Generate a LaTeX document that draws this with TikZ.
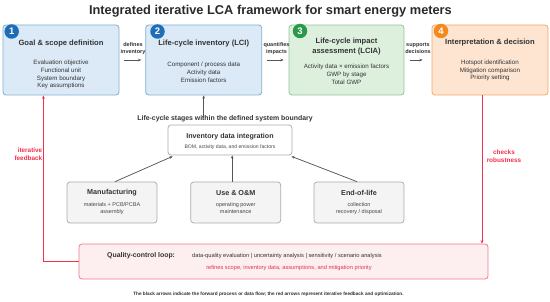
\documentclass[tikz,border=0pt]{standalone}
\usepackage{fontspec}
\setmainfont{Liberation Sans}
\usetikzlibrary{arrows.meta}
\definecolor{bluefill}{HTML}{DCEAF7}
\definecolor{blueline}{HTML}{7FB0D0}
\definecolor{bluedark}{HTML}{1F6DB5}
\definecolor{greenfill}{HTML}{DDF0DD}
\definecolor{greenline}{HTML}{93C795}
\definecolor{greendark}{HTML}{2A9A4A}
\definecolor{orangefill}{HTML}{FDE5D2}
\definecolor{orangeline}{HTML}{F2A766}
\definecolor{orangedark}{HTML}{F28A1E}
\definecolor{redc}{HTML}{F2304F}
\definecolor{redfill}{HTML}{FDEEF0}
\definecolor{redline}{HTML}{F27C8C}
\definecolor{redtext}{HTML}{E0354F}
\definecolor{grayline}{HTML}{AAAAAA}
\definecolor{grayfill}{HTML}{F4F4F4}
\definecolor{txt}{HTML}{333333}
\definecolor{arrowc}{HTML}{555555}
\begin{document}
\begin{tikzpicture}[x=1pt,y=-1pt,
  stagebox/.style={draw, rounded corners=3pt, line width=0.8pt, minimum width=116pt, minimum height=70pt, inner sep=0pt},
  numc/.style={circle, minimum size=14.5pt, inner sep=0pt, text=white, font=\fontsize{9.5}{9.5}\selectfont\bfseries},
  ttl/.style={font=\fontsize{7.6}{10}\selectfont\bfseries, text=txt, align=center, inner sep=0pt},
  bdy/.style={font=\fontsize{6.2}{7.8}\selectfont, text=txt, align=center, inner sep=0pt},
  lbl/.style={font=\fontsize{5.5}{7}\selectfont\bfseries, text=txt, align=center, inner sep=0pt},
  subbox/.style={draw=grayline, fill=grayfill, rounded corners=3pt, line width=0.7pt, minimum width=90pt, minimum height=41pt, inner sep=0pt},
  subttl/.style={font=\fontsize{7.2}{8}\selectfont\bfseries, text=txt, align=center, inner sep=0pt},
  subbdy/.style={font=\fontsize{5.5}{7}\selectfont, text=txt!90, align=center, inner sep=0pt},
  fwd/.style={-{Stealth[length=3.2pt,width=2.6pt]}, line width=0.75pt, draw=arrowc},
  fb/.style={-{Stealth[length=3.4pt,width=2.8pt]}, line width=1pt, color=redc},
  redlbl/.style={font=\fontsize{6.4}{8}\selectfont\bfseries, text=redc, inner sep=0pt}]
\useasboundingbox (0,0) rectangle (550,302);

\node[font=\fontsize{12.8}{14}\selectfont\bfseries, text=txt!80!black] (title) at (270.5,11) {Integrated iterative LCA framework for smart energy meters};

% stage boxes
\node[stagebox, draw=blueline, fill=bluefill] (b1) at (61,60) {};
\node[stagebox, draw=blueline, fill=bluefill] (b2) at (203.7,60) {};
\node[stagebox, draw=greenline, fill=greenfill, minimum width=115pt] (b3) at (346.5,60) {};
\node[stagebox, draw=orangeline, fill=orangefill] (b4) at (490,60) {};

\node[numc, fill=bluedark] (n1) at (11.7,31.5) {1};
\node[numc, fill=bluedark] (n2) at (157.5,31.5) {2};
\node[numc, fill=greendark] (n3) at (300,31) {3};
\node[numc, fill=orangedark] (n4) at (441,31) {4};

\node[ttl] (t1) at (61,44) {Goal \& scope definition};
\node[bdy] (d1) at (61,74.5) {Evaluation objective\\Functional unit\\System boundary\\Key assumptions};
\node[ttl] (t2) at (203.7,44) {Life-cycle inventory (LCI)};
\node[bdy] (d2) at (203.7,72.5) {Component / process data\\Activity data\\Emission factors};
\node[ttl] (t3) at (346.5,47) {Life-cycle impact\\assessment (LCIA)};
\node[bdy] (d3) at (346.5,74) {Activity data × emission factors\\GWP by stage\\Total GWP};
\node[ttl] (t4) at (490,43) {Interpretation \& decision};
\node[bdy] (d4) at (490,70.5) {Hotspot identification\\Mitigation comparison\\Priority setting};

% forward labels and arrows
\node[lbl] (l1) at (133,48.5) {defines\\inventory};
\node[lbl] (l2) at (276.5,48.5) {quantifies\\impacts};
\node[lbl] (l3) at (418,48.5) {supports\\decisions};
\draw[fwd] ([xshift=5pt]b1.east) -- ([xshift=-4pt]b2.west);
\draw[fwd] ([xshift=5pt]b2.east) -- ([xshift=-5pt]b3.west);
\draw[fwd] ([xshift=6pt]b3.east) -- ([xshift=-9pt]b4.west);

% system boundary
\node[font=\fontsize{6.9}{8}\selectfont\bfseries, text=txt, inner sep=0pt] (stages) at (225,119) {Life-cycle stages within the defined system boundary};
\draw[fwd] ([yshift=-2.5pt]stages.north -| b2.south) -- (b2.south);

\node[draw=grayline, fill=white, rounded corners=3pt, line width=0.7pt, minimum width=124pt, minimum height=30pt, inner sep=0pt] (inv) at (230,140) {};
\node[font=\fontsize{7.1}{8}\selectfont\bfseries, text=txt, inner sep=0pt] (invt) at (230,136.5) {Inventory data integration};
\node[font=\fontsize{5.1}{6}\selectfont, text=txt!90, inner sep=0pt] (invd) at (230,147) {BOM, activity data, and emission factors};

\node[subbox] (mfg) at (112,202.5) {};
\node[subttl] (mfgt) at (112,193) {Manufacturing};
\node[subbdy] (mfgd) at (112,208.5) {materials + PCB/PCBA\\assembly};
\node[subbox] (use) at (235.7,202.5) {};
\node[subttl] (uset) at (235.7,193) {Use \& O\&M};
\node[subbdy] (used) at (235.7,208.5) {operating power\\maintenance};
\node[subbox] (eol) at (359,202.5) {};
\node[subttl] (eolt) at (359,193) {End-of-life};
\node[subbdy] (eold) at (359,208.5) {collection\\recovery / disposal};

\draw[fwd] ([xshift=3pt]mfg.north) -- ([xshift=5pt,yshift=-1pt]inv.south west);
\draw[fwd] ([xshift=-3.5pt]use.north) -- ([xshift=-3.5pt]use.north |- inv.south);
\draw[fwd] ([xshift=-2pt]eol.north) -- ([xshift=-1pt,yshift=-1pt]inv.south east);

% quality-control loop
\node[draw=redline, fill=redfill, rounded corners=3pt, line width=0.8pt, minimum width=409pt, minimum height=35pt, inner sep=0pt] (qc) at (283.5,261.5) {};
\node[font=\fontsize{6.9}{8}\selectfont\bfseries, text=txt, anchor=west, inner sep=0pt] (qct) at (107,256) {Quality-control loop:};
\node[font=\fontsize{5.7}{6}\selectfont, text=txt, anchor=west, inner sep=0pt] (qcd) at (192,256) {data-quality evaluation | uncertainty analysis | sensitivity / scenario analysis};
\node[font=\fontsize{5.7}{6}\selectfont, text=redtext, inner sep=0pt] (qcr) at (289,268) {refines scope, inventory data, assumptions, and mitigation priority};

\coordinate (fbtop) at ([xshift=-17.6pt]b1.south);
\draw[fb] (qc.west) -| (fbtop);
\draw[fb] ([xshift=-8pt]b4.south) -- ([xshift=-8pt]b4.south |- qc.north);
\node[redlbl, anchor=east, align=right] (itf) at (42.5,154) {iterative\\feedback};
\node[redlbl, align=center] (chk) at (504,156) {checks\\robustness};

\node[font=\fontsize{4.7}{5}\selectfont\bfseries, text=txt!90!black, inner sep=0pt] (cap) at (268.5,294) {The black arrows indicate the forward process or data flow; the red arrows represent iterative feedback and optimization.};
\end{tikzpicture}
\end{document}
